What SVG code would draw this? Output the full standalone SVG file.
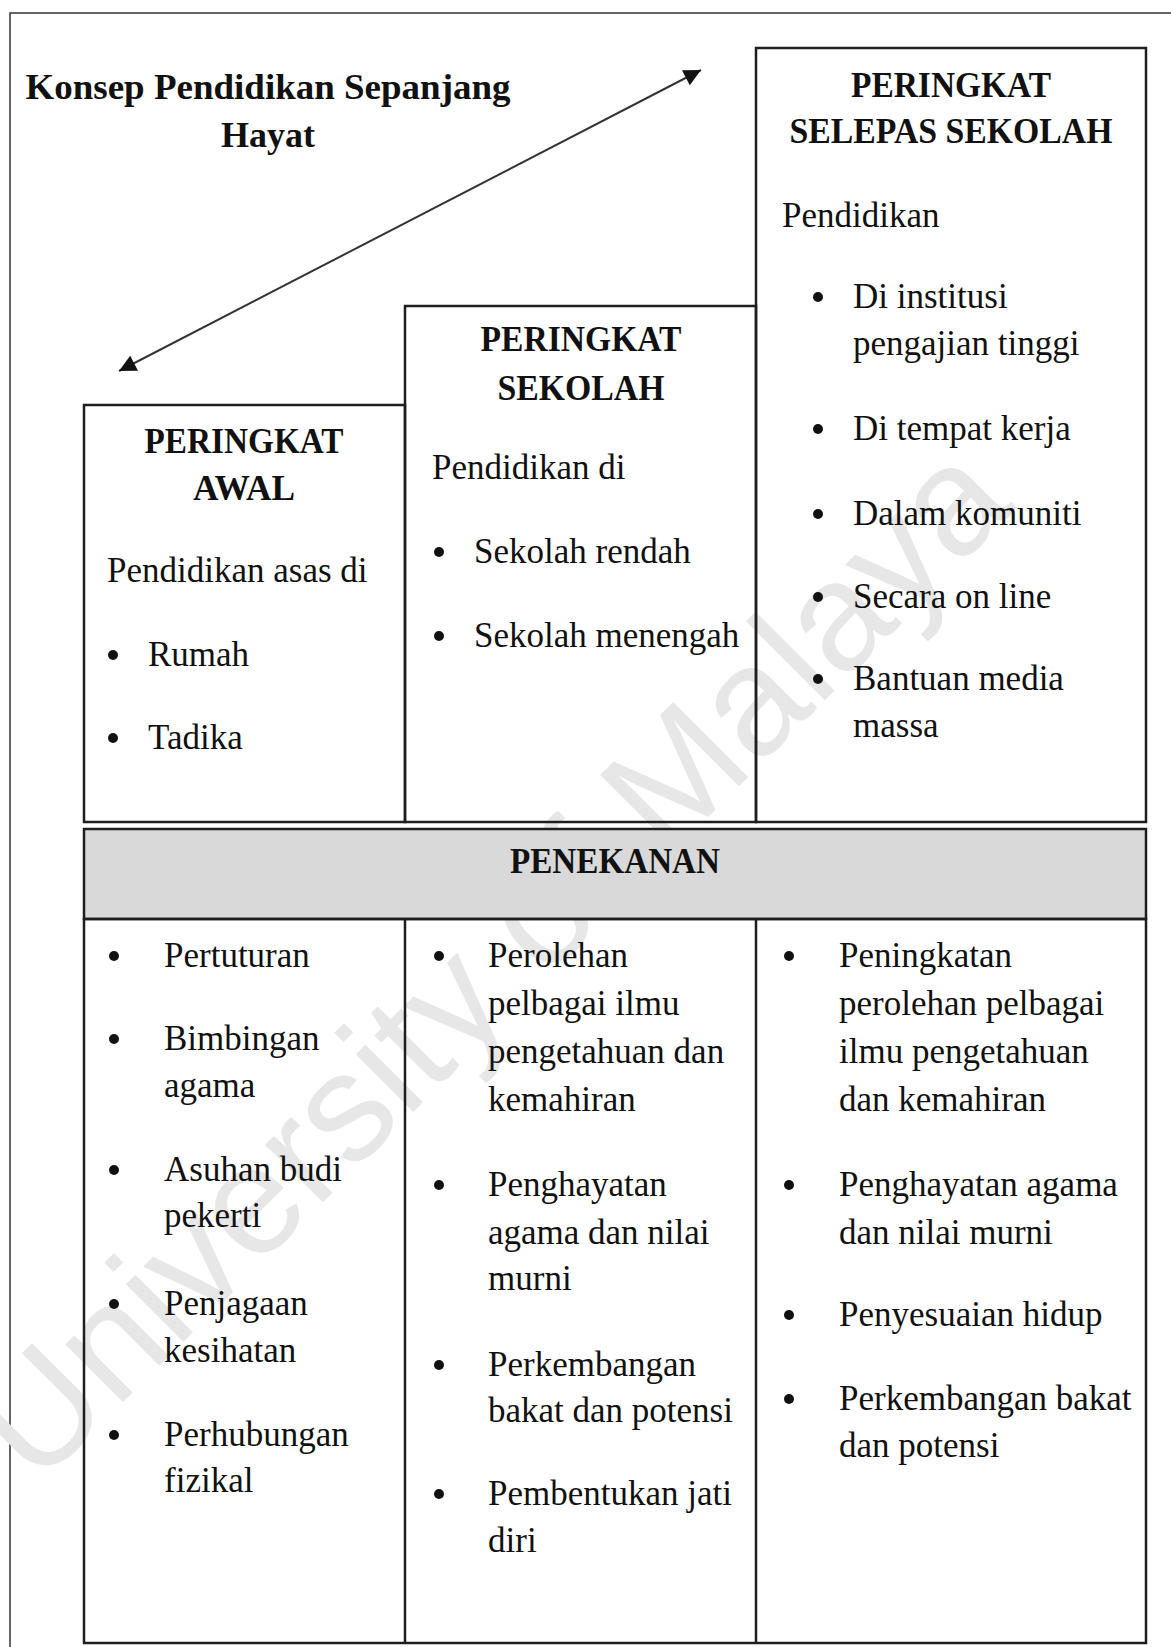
<svg xmlns="http://www.w3.org/2000/svg" width="1171" height="1647" viewBox="0 0 1171 1647">
  <style>
    .t { font-family: 'Liberation Serif', 'Times New Roman', serif; font-size: 35px; fill: #111; }
    .h { font-family: 'Liberation Serif', 'Times New Roman', serif; font-size: 35px; font-weight: bold; fill: #111; text-anchor: middle; }
    .ttl { font-family: 'Liberation Serif', 'Times New Roman', serif; font-size: 36px; font-weight: bold; fill: #111; text-anchor: middle; }
    .box { fill: none; stroke: #1e1e1e; stroke-width: 2.5; }
    .bul { fill: #111; }
    .wm { font-family: 'Liberation Sans', Arial, sans-serif; font-size: 154px; fill: #e7e7e7; text-anchor: middle; }
  </style>
  <defs>
    <marker id="head" viewBox="0 0 10 10" refX="10" refY="5" markerUnits="userSpaceOnUse" markerWidth="22" markerHeight="17" orient="auto-start-reverse">
      <path d="M0,0 L10,5 L0,10 z" fill="#111"/>
    </marker>
  </defs>

  <rect x="0" y="0" width="1171" height="1647" fill="#ffffff"/>

  <!-- page frame (runs past the right and bottom edges) -->
  <path d="M10,1660 V13 H1180" fill="none" stroke="#333" stroke-width="1.5"/>

  <!-- watermark -->
  <text class="wm" transform="translate(527 998) rotate(-45)">University of Malaya</text>

  <!-- title -->
  <g id="title">
    <text class="ttl" x="268" y="99" textLength="485" lengthAdjust="spacingAndGlyphs">Konsep Pendidikan Sepanjang</text>
    <text class="ttl" x="268" y="147">Hayat</text>
  </g>

  <!-- connectors -->
  <g id="connectors">
    <line x1="119" y1="371" x2="701" y2="70" stroke="#333" stroke-width="2" marker-start="url(#head)" marker-end="url(#head)"/>
  </g>

  <!-- stage 1: early -->
  <g id="peringkat-awal">
    <rect class="box" x="84" y="405" width="321" height="417"/>
    <text class="h" x="244" y="453" textLength="199" lengthAdjust="spacingAndGlyphs">PERINGKAT</text>
    <text class="h" x="244" y="500" textLength="102" lengthAdjust="spacingAndGlyphs">AWAL</text>
    <text class="t" x="107" y="582">Pendidikan asas di</text>
    <circle class="bul" cx="113" cy="655" r="5"/>
    <text class="t" x="148" y="666">Rumah</text>
    <circle class="bul" cx="113" cy="738" r="5"/>
    <text class="t" x="148" y="749">Tadika</text>
  </g>

  <!-- stage 2: school -->
  <g id="peringkat-sekolah">
    <rect class="box" x="405" y="306" width="351" height="516"/>
    <text class="h" x="581" y="351" textLength="201" lengthAdjust="spacingAndGlyphs">PERINGKAT</text>
    <text class="h" x="581" y="400" textLength="167" lengthAdjust="spacingAndGlyphs">SEKOLAH</text>
    <text class="t" x="432" y="479">Pendidikan di</text>
    <circle class="bul" cx="439" cy="552" r="5"/>
    <text class="t" x="474" y="563">Sekolah rendah</text>
    <circle class="bul" cx="439" cy="636" r="5"/>
    <text class="t" x="474" y="647">Sekolah menengah</text>
  </g>

  <!-- stage 3: after school -->
  <g id="peringkat-selepas-sekolah">
    <rect class="box" x="756" y="48" width="390" height="774"/>
    <text class="h" x="951" y="97" textLength="200" lengthAdjust="spacingAndGlyphs">PERINGKAT</text>
    <text class="h" x="951" y="143" textLength="323" lengthAdjust="spacingAndGlyphs">SELEPAS SEKOLAH</text>
    <text class="t" x="782" y="227">Pendidikan</text>
    <circle class="bul" cx="818" cy="297" r="5"/>
    <text class="t" x="853" y="308">Di institusi</text>
    <text class="t" x="853" y="355">pengajian tinggi</text>
    <circle class="bul" cx="818" cy="429" r="5"/>
    <text class="t" x="853" y="440">Di tempat kerja</text>
    <circle class="bul" cx="818" cy="514" r="5"/>
    <text class="t" x="853" y="525">Dalam komuniti</text>
    <circle class="bul" cx="818" cy="597" r="5"/>
    <text class="t" x="853" y="608">Secara on line</text>
    <circle class="bul" cx="818" cy="679" r="5"/>
    <text class="t" x="853" y="690">Bantuan media</text>
    <text class="t" x="853" y="737">massa</text>
  </g>

  <!-- emphasis header band -->
  <g id="penekanan">
    <rect x="84" y="829" width="1062" height="90" fill="#d9d9d9" stroke="#1e1e1e" stroke-width="2.5"/>
    <text class="h" x="615" y="873" textLength="210" lengthAdjust="spacingAndGlyphs">PENEKANAN</text>
  </g>

  <!-- emphasis table frame -->
  <g id="penekanan-table">
    <rect class="box" x="84" y="919" width="1062" height="724"/>
    <line x1="405" y1="919" x2="405" y2="1643" stroke="#1e1e1e" stroke-width="2.5"/>
    <line x1="756" y1="919" x2="756" y2="1643" stroke="#1e1e1e" stroke-width="2.5"/>
  </g>

  <!-- emphasis: early stage -->
  <g id="penekanan-awal">
    <circle class="bul" cx="114" cy="956" r="5"/>
    <text class="t" x="164" y="967">Pertuturan</text>
    <circle class="bul" cx="114" cy="1039" r="5"/>
    <text class="t" x="164" y="1050">Bimbingan</text>
    <text class="t" x="164" y="1097">agama</text>
    <circle class="bul" cx="114" cy="1170" r="5"/>
    <text class="t" x="164" y="1181">Asuhan budi</text>
    <text class="t" x="164" y="1227">pekerti</text>
    <circle class="bul" cx="114" cy="1304" r="5"/>
    <text class="t" x="164" y="1315">Penjagaan</text>
    <text class="t" x="164" y="1362">kesihatan</text>
    <circle class="bul" cx="114" cy="1435" r="5"/>
    <text class="t" x="164" y="1446">Perhubungan</text>
    <text class="t" x="164" y="1492">fizikal</text>
  </g>

  <!-- emphasis: school stage -->
  <g id="penekanan-sekolah">
    <circle class="bul" cx="439" cy="956" r="5"/>
    <text class="t" x="488" y="967">Perolehan</text>
    <text class="t" x="488" y="1015">pelbagai ilmu</text>
    <text class="t" x="488" y="1063">pengetahuan dan</text>
    <text class="t" x="488" y="1111">kemahiran</text>
    <circle class="bul" cx="439" cy="1185" r="5"/>
    <text class="t" x="488" y="1196">Penghayatan</text>
    <text class="t" x="488" y="1244">agama dan nilai</text>
    <text class="t" x="488" y="1290">murni</text>
    <circle class="bul" cx="439" cy="1365" r="5"/>
    <text class="t" x="488" y="1376">Perkembangan</text>
    <text class="t" x="488" y="1422">bakat dan potensi</text>
    <circle class="bul" cx="439" cy="1494" r="5"/>
    <text class="t" x="488" y="1505">Pembentukan jati</text>
    <text class="t" x="488" y="1552">diri</text>
  </g>

  <!-- emphasis: after-school stage -->
  <g id="penekanan-selepas-sekolah">
    <circle class="bul" cx="789" cy="956" r="5"/>
    <text class="t" x="839" y="967">Peningkatan</text>
    <text class="t" x="839" y="1015">perolehan pelbagai</text>
    <text class="t" x="839" y="1063">ilmu pengetahuan</text>
    <text class="t" x="839" y="1111">dan kemahiran</text>
    <circle class="bul" cx="789" cy="1185" r="5"/>
    <text class="t" x="839" y="1196">Penghayatan agama</text>
    <text class="t" x="839" y="1244">dan nilai murni</text>
    <circle class="bul" cx="789" cy="1315" r="5"/>
    <text class="t" x="839" y="1326">Penyesuaian hidup</text>
    <circle class="bul" cx="789" cy="1399" r="5"/>
    <text class="t" x="839" y="1410">Perkembangan bakat</text>
    <text class="t" x="839" y="1457">dan potensi</text>
  </g>
</svg>
